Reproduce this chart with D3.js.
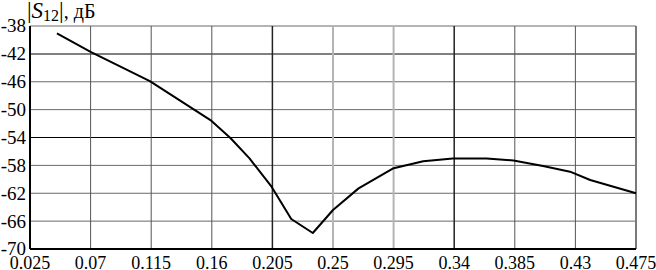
<!DOCTYPE html>
<html>
<head>
<meta charset="utf-8">
<script src="https://cdn.jsdelivr.net/npm/d3@7"></script>
<style>
  body { margin: 0; background: #fff; }
  svg { display: block; }
</style>
</head>
<body>
<div id="plot"></div>
<script>
"use strict";

// Frequency ticks and labels
var xTicks = [0.025, 0.07, 0.115, 0.16, 0.205, 0.25, 0.295, 0.34, 0.385, 0.43, 0.475];
var xLabels = ["0.025", "0.07", "0.115", "0.16", "0.205", "0.25", "0.295", "0.34", "0.385", "0.43", "0.475"];
var yTicks = [-38, -42, -46, -50, -54, -58, -62, -66, -70];
var yLabels = ["-38", "-42", "-46", "-50", "-54", "-58", "-62", "-66", "-70"];

// |S12| curve
var freq = [0.045, 0.070, 0.114, 0.159, 0.174, 0.188, 0.2045, 0.219, 0.235, 0.250, 0.269, 0.295, 0.317, 0.339, 0.364, 0.384, 0.406, 0.426, 0.441, 0.475];
var s12  = [-39.05, -41.7, -45.9, -51.5, -54.1, -57.0, -61.1, -65.7, -67.7, -64.4, -61.3, -58.4, -57.4, -57.0, -57.0, -57.3, -58.1, -58.9, -60.1, -62.0];

var WIDTH = 656;
var HEIGHT = 270;
var FONT = "'Liberation Serif'";
var plotLeft = 30, plotRight = 636, plotTop = 26, plotBottom = 249;

var svg = d3.select("#plot").append("svg")
    .attr("width", WIDTH)
    .attr("height", HEIGHT);

var scaleX = d3.scaleLinear().domain([0.025, 0.475]).range([plotLeft, plotRight]);
var scaleY = d3.scaleLinear().domain([-70, -38]).range([plotBottom, plotTop]);

// Grid line looks (the original has uneven line weights)
function hStyle(v) {
    if (v == -42) return { c: "#808080", w: 2 };
    if (v == -54) return { c: "#000", w: 1.2 };
    if (v == -70) return { c: "#000", w: 2 };
    return { c: "#6a6a6a", w: 1 };
}
function vStyle(v) {
    if (v == 0.025) return { c: "#000", w: 2 };
    if (v == 0.205 || v == 0.34) return { c: "#222", w: 1.5 };
    if (v == 0.25 || v == 0.295) return { c: "#b4b4b4", w: 2 };
    if (v == 0.475) return { c: "#7a7a7a", w: 2 };
    return { c: "#555", w: 1 };
}

var grid = svg.append("g");

yTicks.forEach(function (v) {
    var s = hStyle(v);
    grid.append("line")
        .attr("x1", plotLeft).attr("x2", plotRight)
        .attr("y1", scaleY(v)).attr("y2", scaleY(v))
        .attr("stroke", s.c).attr("stroke-width", s.w);
});

xTicks.forEach(function (v) {
    var s = vStyle(v);
    grid.append("line")
        .attr("x1", scaleX(v)).attr("x2", scaleX(v))
        .attr("y1", plotTop).attr("y2", plotBottom)
        .attr("stroke", s.c).attr("stroke-width", s.w);
});

// Redraw axes on top
svg.append("line")
    .attr("x1", plotLeft).attr("x2", plotRight)
    .attr("y1", plotBottom).attr("y2", plotBottom)
    .attr("stroke", "#000").attr("stroke-width", 2);
svg.append("line")
    .attr("x1", plotLeft).attr("x2", plotLeft)
    .attr("y1", plotTop).attr("y2", plotBottom)
    .attr("stroke", "#000").attr("stroke-width", 2);

// Tick labels
yTicks.forEach(function (v, i) {
    svg.append("text")
        .attr("x", plotLeft - 4)
        .attr("y", scaleY(v))
        .attr("dy", "0.34em")
        .attr("text-anchor", "end")
        .style("font-family", FONT)
        .style("font-size", "19px")
        .text(yLabels[i]);
});

xTicks.forEach(function (v, i) {
    svg.append("text")
        .attr("x", scaleX(v))
        .attr("y", 269)
        .attr("text-anchor", "middle")
        .style("font-family", FONT)
        .style("font-size", "18px")
        .text(xLabels[i]);
});

// Axis title |S12|, дБ
var title = svg.append("text")
    .attr("x", 27)
    .attr("y", 18)
    .style("font-family", FONT)
    .style("font-size", "23px");
title.append("tspan").text("|");
title.append("tspan").style("font-style", "italic").text("S");
title.append("tspan").attr("dy", 3).style("font-size", "16px").text("12");
title.append("tspan").attr("dy", -3).text("|");
title.append("tspan").style("font-size", "20px").text(", дБ");

// Curve
var points = freq.map(function (f, i) { return { x: f, y: s12[i] }; });

var pathGenerator = d3.line()
    .x(function (d) { return scaleX(d.x); })
    .y(function (d) { return scaleY(d.y); });

svg.append("path")
    .attr("d", pathGenerator(points))
    .attr("fill", "none")
    .attr("stroke", "#000")
    .attr("stroke-width", 2)
    .attr("stroke-linejoin", "round");
</script>
</body>
</html>
